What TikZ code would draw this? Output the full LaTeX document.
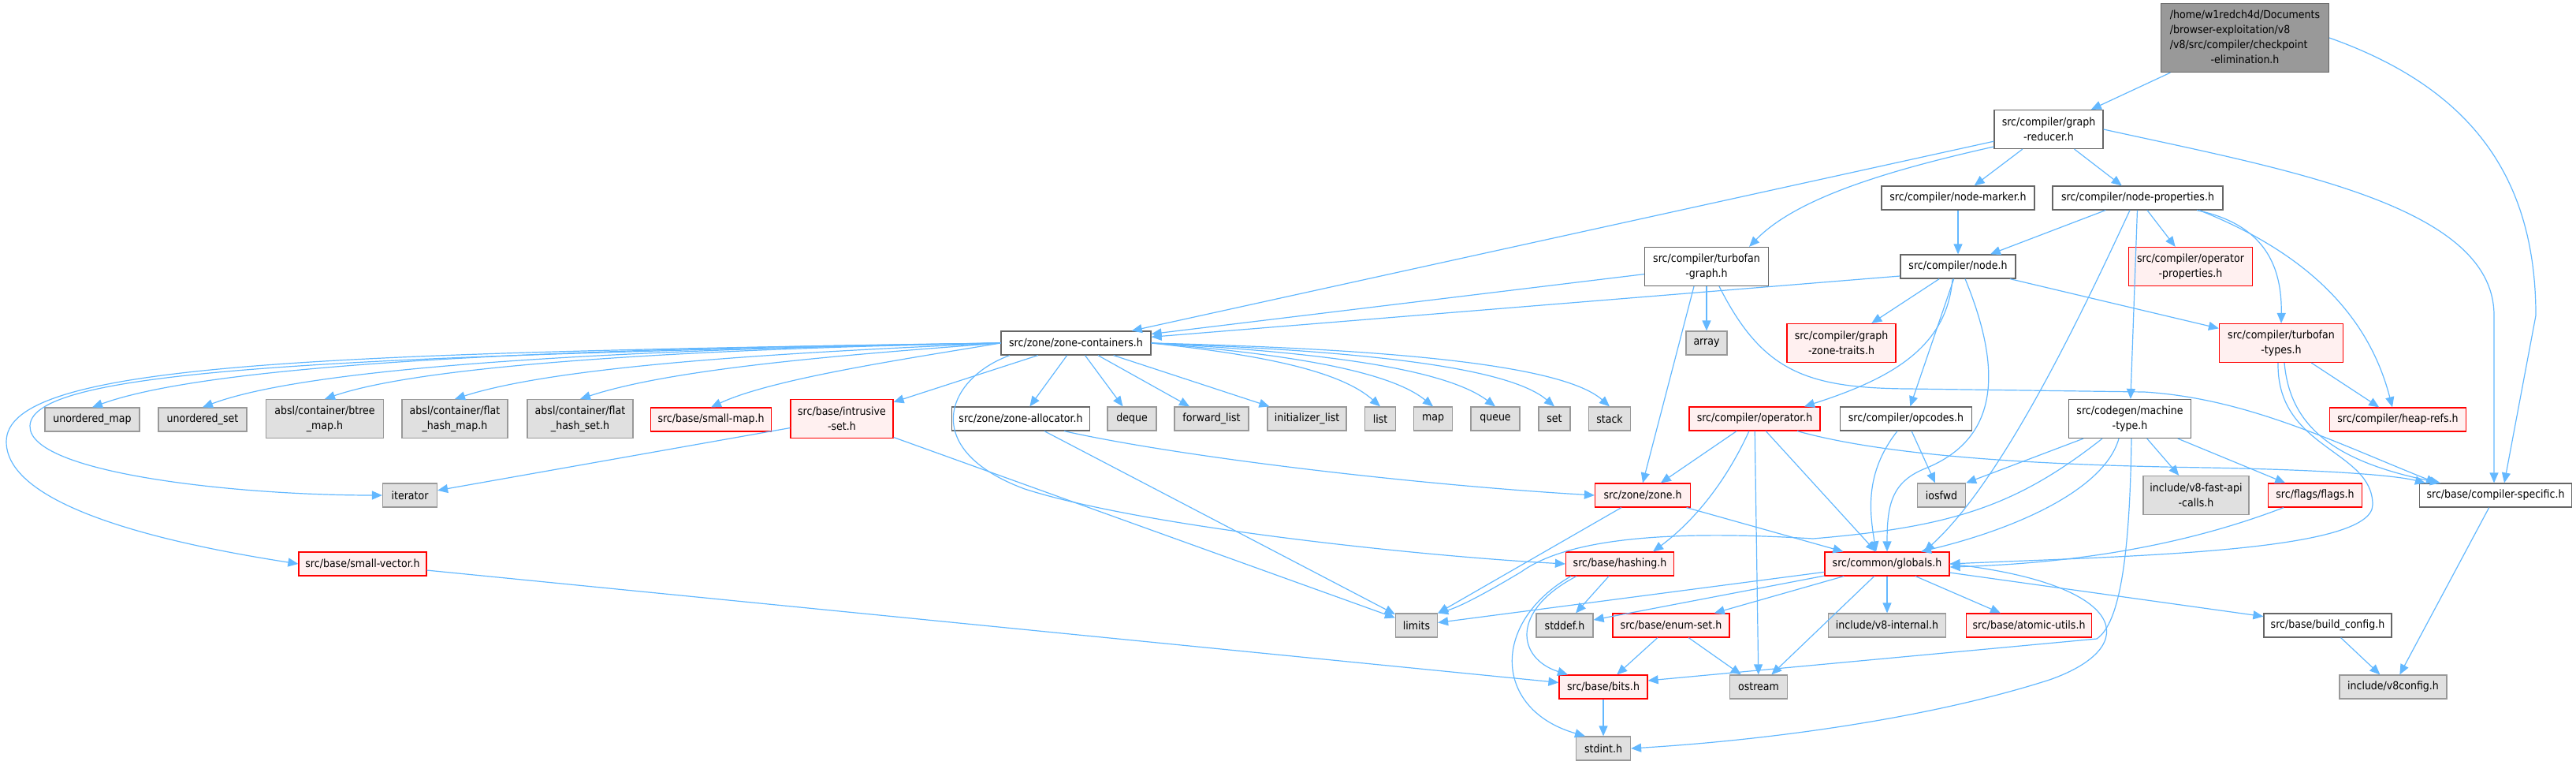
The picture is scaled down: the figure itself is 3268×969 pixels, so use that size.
\documentclass[tikz,border=0pt]{standalone}
\usepackage{fontspec}
\setmainfont{DejaVu Sans Condensed}
\usetikzlibrary{arrows.meta}

\definecolor{edgeblue}{HTML}{63B8FF}
\definecolor{boxgrey}{HTML}{666666}
\definecolor{sysgrey}{HTML}{999999}
\definecolor{sysfill}{HTML}{E0E0E0}
\definecolor{redfill}{HTML}{FFF0F0}

\begin{document}
\begin{tikzpicture}[x=1pt, y=1pt,
    hdr/.style={draw=boxgrey, fill=white, line width=1.2pt, inner sep=0pt,
        minimum height=30pt, align=center, font=\fontsize{14}{19}\selectfont},
    syshdr/.style={hdr, draw=sysgrey, fill=sysfill},
    redhdr/.style={hdr, draw=red, fill=redfill},
    tophdr/.style={hdr, fill=sysgrey},
    tall/.style={minimum height=49pt},
    dep/.style={-{Triangle[length=13pt, width=11pt]}, draw=edgeblue, line width=1.2pt}
]
\useasboundingbox (0,0) rectangle (3268,-969);

\node[tophdr, minimum width=213pt, minimum height=87pt] (main) at (2848,-48) {\begin{tabular}{@{}l@{}}/home/w1redch4d/Documents\\/browser-exploitation/v8\\/v8/src/compiler/checkpoint\\\multicolumn{1}{@{}c@{}}{-elimination.h}\end{tabular}};
\node[hdr, tall, minimum width=138pt] (greducer) at (2599,-164) {src/compiler/graph\\-reducer.h};
\node[hdr, minimum width=194pt] (nmarker) at (2484,-251) {src/compiler/node-marker.h};
\node[hdr, minimum width=216pt] (nprops) at (2712,-251) {src/compiler/node-properties.h};
\node[hdr, tall, minimum width=157pt] (tgraph) at (2165,-338) {src/compiler/turbofan\\-graph.h};
\node[hdr, minimum width=146pt] (node) at (2484,-338) {src/compiler/node.h};
\node[redhdr, tall, minimum width=157pt] (opprops) at (2779,-338) {src/compiler/operator\\-properties.h};
\node[hdr, minimum width=190pt] (zcont) at (1365,-435) {src/zone/zone-containers.h};
\node[syshdr, minimum width=52pt] (array) at (2165,-435) {array};
\node[redhdr, tall, minimum width=138pt] (gztraits) at (2336,-435) {src/compiler/graph\\-zone-traits.h};
\node[redhdr, tall, minimum width=157pt] (ttypes) at (2894,-435) {src/compiler/turbofan\\-types.h};

\node[syshdr, minimum width=120pt] (umap) at (117,-532) {unordered\_map};
\node[syshdr, minimum width=112pt] (uset) at (257,-532) {unordered\_set};
\node[syshdr, tall, minimum width=149pt] (btree) at (412,-531) {absl/container/btree\\\_map.h};
\node[syshdr, tall, minimum width=134pt] (fhmap) at (577,-531) {absl/container/flat\\\_hash\_map.h};
\node[syshdr, tall, minimum width=134pt] (fhset) at (736,-531) {absl/container/flat\\\_hash\_set.h};
\node[redhdr, minimum width=153pt] (smap) at (902,-532) {src/base/small-map.h};
\node[redhdr, tall, minimum width=130pt] (iset) at (1068,-531) {src/base/intrusive\\-set.h};
\node[hdr, minimum width=175pt] (zalloc) at (1295,-531) {src/zone/zone-allocator.h};
\node[syshdr, minimum width=62pt] (deque) at (1436,-531) {deque};
\node[syshdr, minimum width=94pt] (flist) at (1537,-531) {forward\_list};
\node[syshdr, minimum width=100pt] (ilist) at (1658,-531) {initializer\_list};
\node[syshdr, minimum width=39pt] (list) at (1751,-531) {list};
\node[syshdr, minimum width=49pt] (map) at (1818,-531) {map};
\node[syshdr, minimum width=62pt] (queue) at (1897,-531) {queue};
\node[syshdr, minimum width=40pt] (set) at (1972,-531) {set};
\node[syshdr, minimum width=53pt] (stack) at (2042,-531) {stack};
\node[redhdr, minimum width=166pt] (opers) at (2226,-531) {src/compiler/operator.h};
\node[hdr, minimum width=167pt] (opcodes) at (2418,-531) {src/compiler/opcodes.h};
\node[hdr, tall, minimum width=155pt] (mtype) at (2702,-531) {src/codegen/machine\\-type.h};
\node[redhdr, minimum width=173pt] (heaprefs) at (3042,-532) {src/compiler/heap-refs.h};

\node[syshdr, minimum width=69pt] (iterator) at (520,-628) {iterator};
\node[redhdr, minimum width=121pt] (zone) at (2084,-628) {src/zone/zone.h};
\node[syshdr, minimum width=61pt] (iosfwd) at (2463,-628) {iosfwd};
\node[syshdr, tall, minimum width=134pt] (fastapi) at (2786,-628) {include/v8-fast-api\\-calls.h};
\node[redhdr, minimum width=119pt] (flags) at (2937,-628) {src/flags/flags.h};
\node[hdr, minimum width=193pt] (cspec) at (3166,-628) {src/base/compiler-specific.h};

\node[redhdr, minimum width=162pt] (svector) at (460,-715) {src/base/small-vector.h};
\node[redhdr, minimum width=137pt] (hashing) at (2055,-715) {src/base/hashing.h};
\node[redhdr, minimum width=158pt] (globals) at (2394,-715) {src/common/globals.h};

\node[syshdr, minimum width=53pt] (limits) at (1797,-793) {limits};
\node[syshdr, minimum width=72pt] (stddef) at (1985,-793) {stddef.h};
\node[redhdr, minimum width=148pt] (enumset) at (2120,-793) {src/base/enum-set.h};
\node[syshdr, minimum width=149pt] (v8int) at (2394,-793) {include/v8-internal.h};
\node[redhdr, minimum width=159pt] (atomic) at (2574,-793) {src/base/atomic-utils.h};
\node[hdr, minimum width=162pt] (buildcfg) at (2953,-793) {src/base/build\_config.h};

\node[redhdr, minimum width=112pt] (bits) at (2034,-871) {src/base/bits.h};
\node[syshdr, minimum width=73pt] (ostream) at (2231,-871) {ostream};
\node[syshdr, minimum width=136pt] (v8config) at (3036,-871) {include/v8config.h};
\node[syshdr, minimum width=69pt] (stdint) at (2034,-949) {stdint.h};

\draw[dep] (main) -- (greducer);
\draw[dep] (main.east) .. controls (3130,-110) and (3217,-220) .. (3217,-400) -- ([xshift=11pt]cspec.north);

\draw[dep] (greducer) -- (zcont);
\draw[dep] ([yshift=-22pt]greducer.west) .. controls (2400,-215) and (2280,-250) .. ([xshift=54pt]tgraph.north);
\draw[dep] (greducer) -- (nmarker);
\draw[dep] (greducer) -- (nprops);
\draw[dep] (greducer.east) .. controls (2900,-215) and (3164,-260) .. (3164,-400) -- ([xshift=-2pt]cspec.north);

\draw[dep] (nmarker) -- (node);
\draw[dep] (nprops) -- (node);
\draw[dep] (nprops) -- (opprops);
\draw[dep] ([xshift=75pt]nprops.south) .. controls (2875,-285) and (2895,-340) .. (ttypes.north);
\draw[dep] ([xshift=78pt]nprops.south) .. controls (2950,-330) and (3010,-420) .. ([xshift=-7pt]heaprefs.north);
\draw[dep] (nprops) -- (mtype);
\draw[dep] ([xshift=-10pt]nprops.south) .. controls (2640,-400) and (2540,-610) .. ([xshift=47pt]globals.north);

\draw[dep] (tgraph) -- (zcont);
\draw[dep] (tgraph) -- (array);
\draw[dep] ([xshift=-16pt]tgraph.south) -- (zone.north);
\draw[dep] ([xshift=16pt]tgraph.south) .. controls (2235,-470) and (2290,-492) .. (2420,-493) -- (2720,-497) .. controls (2850,-505) and (2960,-560) .. ([xshift=-75pt]cspec.north);

\draw[dep] ([yshift=-12pt]node.west) -- (zcont);
\draw[dep] (node) -- (gztraits);
\draw[dep] (node) -- (ttypes);
\draw[dep] ([xshift=-7pt]node.south) .. controls (2470,-440) and (2400,-480) .. ([xshift=63pt]opers.north);
\draw[dep] (node) -- (opcodes);
\draw[dep] ([xshift=9pt]node.south) .. controls (2545,-480) and (2530,-560) .. (2440,-595) .. controls (2400,-612) and (2394,-640) .. (globals.north);

\draw[dep] (zcont.west) .. controls (900,-440) and (300,-450) .. (umap.north);
\draw[dep] (zcont.west) .. controls (950,-440) and (420,-455) .. (uset.north);
\draw[dep] (zcont.west) .. controls (1000,-440) and (560,-455) .. (btree.north);
\draw[dep] (zcont.west) .. controls (1050,-445) and (720,-460) .. (fhmap.north);
\draw[dep] (zcont.west) .. controls (1100,-448) and (860,-465) .. (fhset.north);
\draw[dep] (zcont.west) .. controls (1150,-455) and (980,-480) .. (smap.north);
\draw[dep] (zcont) -- (iset);
\draw[dep] (zcont.west) .. controls (400,-452) and (40,-470) .. (38,-540) .. controls (36,-600) and (300,-628) .. (iterator.west);
\draw[dep] (zcont.west) .. controls (400,-448) and (8,-460) .. (8,-560) .. controls (8,-650) and (250,-695) .. (svector.west);
\draw[dep] ([xshift=-84pt]zcont.south) .. controls (1200,-480) and (1165,-570) .. (1300,-620) .. controls (1450,-668) and (1800,-705) .. (hashing.west);
\draw[dep] (zcont) -- (zalloc);
\draw[dep] (zcont) -- (deque);
\draw[dep] (zcont) -- (flist);
\draw[dep] (zcont) -- (ilist);
\draw[dep] (zcont.east) .. controls (1600,-450) and (1700,-470) .. (list.north);
\draw[dep] (zcont.east) .. controls (1620,-448) and (1760,-468) .. (map.north);
\draw[dep] (zcont.east) .. controls (1660,-446) and (1830,-465) .. (queue.north);
\draw[dep] (zcont.east) .. controls (1700,-444) and (1910,-462) .. (set.north);
\draw[dep] (zcont.east) .. controls (1740,-442) and (1980,-460) .. (stack.north);

\draw[dep] (iset) -- (iterator);
\draw[dep] (iset) -- (limits);
\draw[dep] (zalloc) -- (limits);
\draw[dep] ([xshift=55pt]zalloc.south) .. controls (1500,-580) and (1800,-615) .. (zone.west);

\draw[dep] (opers) -- (zone);
\draw[dep] (opers) .. controls (2190,-610) and (2150,-660) .. ([xshift=42pt]hashing.north);
\draw[dep] (opers) -- (ostream);
\draw[dep] (opers) -- (globals);
\draw[dep] ([xshift=54pt]opers.south) .. controls (2400,-580) and (2600,-590) .. (2800,-593) .. controls (2960,-596) and (3040,-603) .. ([xshift=8pt]cspec.north west);

\draw[dep] (opcodes) -- ([xshift=-8pt]iosfwd.north);
\draw[dep] ([xshift=-11pt]opcodes.south) .. controls (2365,-600) and (2372,-650) .. ([xshift=-14pt]globals.north);

\draw[dep] ([xshift=-59pt]mtype.south) -- (iosfwd.north east);
\draw[dep] ([xshift=-35pt]mtype.south) .. controls (2560,-640) and (2480,-668) .. (2300,-683) .. controls (2120,-672) and (1990,-682) .. (1930,-725) .. controls (1880,-755) and (1850,-770) .. (limits.north east);
\draw[dep] ([xshift=-14pt]mtype.south) .. controls (2670,-620) and (2560,-670) .. ([xshift=43pt]globals.north);
\draw[dep] ([xshift=2pt]mtype.south) .. controls (2702,-700) and (2690,-790) .. (2660,-810) -- ([yshift=8pt]bits.east);
\draw[dep] (mtype) -- (fastapi);
\draw[dep] (mtype) -- (flags);

\draw[dep] (ttypes) -- (heaprefs);
\draw[dep] ([xshift=4pt]ttypes.south) .. controls (2905,-540) and (2960,-585) .. ([xshift=-70pt]cspec.north);
\draw[dep] ([xshift=-4pt]ttypes.south) .. controls (2888,-570) and (3010,-570) .. (3010,-640) .. controls (3010,-700) and (2700,-705) .. (globals.east);

\draw[dep] ([xshift=-40pt]flags.south) .. controls (2750,-700) and (2600,-715) .. ([yshift=-4pt]globals.east);
\draw[dep] (zone) -- (limits);
\draw[dep] (zone) -- (globals);
\draw[dep] (cspec) -- (v8config);
\draw[dep] (svector) -- (bits);

\draw[dep] (hashing) -- (stddef);
\draw[dep] ([xshift=-55pt]hashing.south) .. controls (1915,-775) and (1925,-835) .. ([xshift=-45pt]bits.north);
\draw[dep] ([xshift=-62pt]hashing.south) .. controls (1890,-790) and (1895,-900) .. ([xshift=-23pt]stdint.north);

\draw[dep] (enumset) -- (bits);
\draw[dep] (enumset) -- (ostream);
\draw[dep] (bits) -- (stdint);

\draw[dep] (globals) -- (limits);
\draw[dep] (globals) -- (stddef);
\draw[dep] (globals) -- (enumset);
\draw[dep] (globals) -- (ostream);
\draw[dep] (globals) -- (v8int);
\draw[dep] (globals) -- (atomic);
\draw[dep] (globals) -- (buildcfg);
\draw[dep] (globals.east) .. controls (2700,-740) and (2720,-820) .. (2600,-862) .. controls (2450,-910) and (2250,-938) .. (stdint.east);

\draw[dep] (buildcfg) -- (v8config);
\end{tikzpicture}
\end{document}
